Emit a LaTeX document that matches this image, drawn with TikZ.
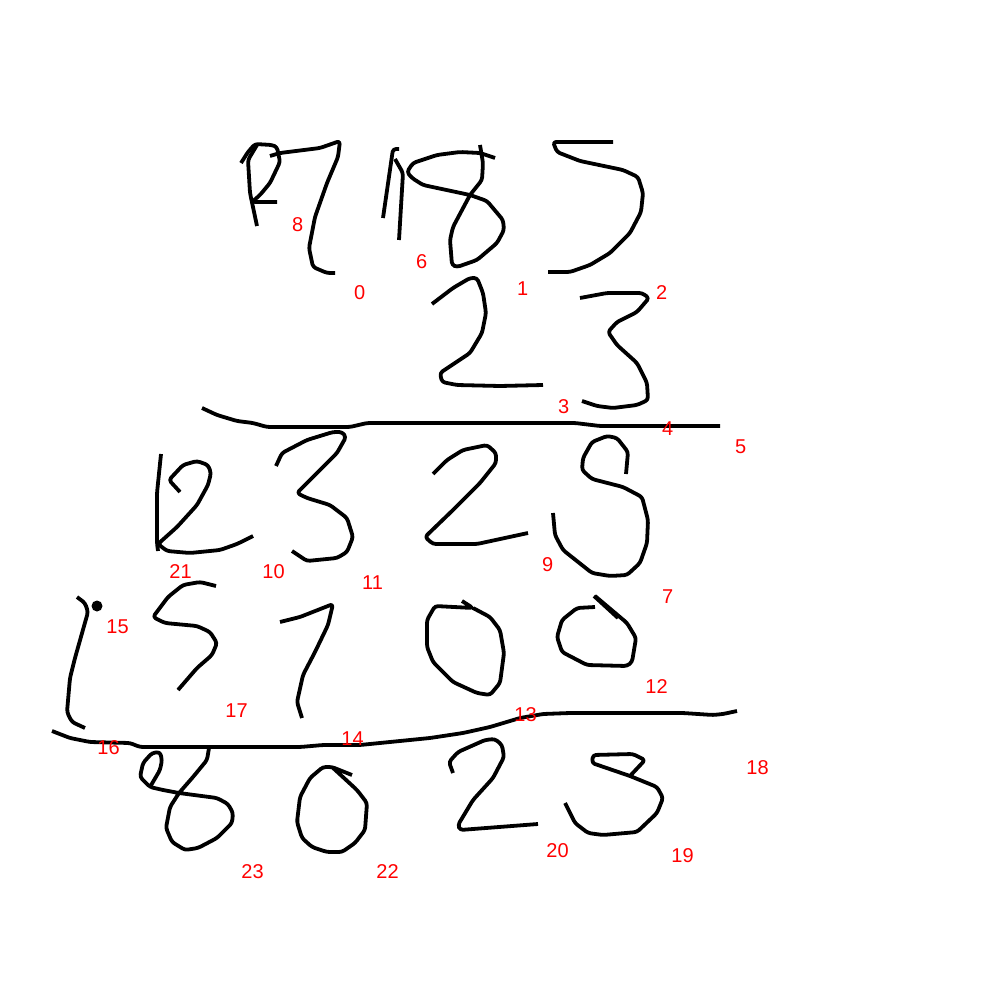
\documentclass[tikz,border=0pt]{standalone}
\usepackage{fontspec}
\setmainfont{Liberation Sans}
\definecolor{lab}{HTML}{FF0000}
\tikzset{
  ink/.style={draw=black,line width=3.8pt,line cap=butt,line join=round,rounded corners=3pt},
  num/.style={text=lab,font=\fontsize{20}{20}\selectfont,inner sep=0pt,xshift=0.6pt,yshift=-0.8pt}
}
\begin{document}
\begin{tikzpicture}[x=1pt,y=-1pt]
\useasboundingbox (0,0) rectangle (1000,1000);
\fill[white] (0,0) rectangle (1000,1000);
% top row: P 7 1 8 5
\draw[ink] (241,163)--(248,152)--(255,144)--(272,145)--(277,147)--(280,162)--(270,183)--(260,195)--(252,202)--(277,202);
\draw[ink] (257,145)--(248,160)--(250,193)--(257,226);
\draw[ink] (270,156)--(280,153)--(320,148)--(340,141)--(338,157)--(327,183)--(315,217)--(309,248)--(313,267)--(327,273)--(335,273);
\draw[ink] (383,218)--(393,149)--(399,149);
\draw[ink] (395,159)--(403,173)--(399,240);
\draw[ink] (495,158)--(480,153)--(460,152)--(437,155)--(413,163)--(407,172)--(412,178)--(423,185)--(470,195)--(487,201)--(503,220)--(504,230)--(497,243)--(477,260)--(457,267)--(452,265)--(450,240)--(453,227)--(470,195)--(482,180)--(483,163)--(480,145);
\draw[ink] (613,142)--(553,142)--(557,152)--(580,161)--(623,170)--(638,177)--(643,193)--(641,212)--(630,233)--(610,253)--(590,265)--(570,272)--(548,272);
% second row: 2 3
\draw[ink] (432,304)--(453,288)--(470,278)--(477,278)--(483,293)--(486,313)--(482,333)--(470,353)--(440,373)--(442,382)--(457,385)--(500,386)--(543,385);
\draw[ink] (580,298)--(607,293)--(642,293)--(649,298)--(637,312)--(617,322)--(608,332)--(617,345)--(637,363)--(647,383)--(648,400)--(637,405)--(613,408)--(597,406)--(582,401);
% first rule
\draw[ink] (202,408)--(217,415)--(237,421)--(253,423)--(267,427)--(350,427)--(367,423)--(575,423)--(600,426)--(720,426);
% third row: 1 2 3 2 S
\draw[ink] (161,454)--(157,493)--(157,543)--(158,551);
\draw[ink] (180,492)--(169,480)--(183,465)--(197,461)--(208,465)--(211,473)--(208,485)--(197,505)--(177,527)--(158,544)--(167,551)--(190,553)--(220,550)--(237,544)--(253,536);
\draw[ink] (276,466)--(282,453)--(307,440)--(333,432)--(342,432)--(346,437)--(337,453)--(297,493)--(307,498)--(330,505)--(347,518)--(353,537)--(347,552)--(337,558)--(307,561)--(292,551);
\draw[ink] (433,474)--(447,460)--(463,450)--(487,445)--(496,453)--(496,463)--(480,483)--(453,510)--(425,537)--(433,544)--(477,544)--(528,533);
\draw[ink] (626,474)--(628,452)--(617,438)--(607,436)--(592,442)--(583,458)--(582,470)--(592,479)--(623,487)--(642,497)--(648,520)--(647,543)--(640,563)--(627,575)--(610,576)--(592,573)--(563,550)--(555,535)--(553,513);
% fourth row: bracket, dot, 5 7 0 0
\draw[ink] (77,597)--(85,603)--(88,612)--(75,658)--(70,678)--(67,712)--(72,722)--(85,728);
\fill[black] (97,606) circle[radius=5.5];
\draw[ink] (216,586)--(200,582)--(183,585)--(168,597)--(153,617)--(165,623)--(197,626)--(210,632)--(217,643)--(212,655)--(197,668)--(178,690);
\draw[ink] (280,622)--(300,617)--(333,604)--(328,625)--(315,652)--(303,675)--(297,702)--(302,718);
\draw[ink] (462,601)--(473,608)--(435,606)--(427,620)--(427,647)--(433,662)--(453,682)--(477,693)--(490,695)--(500,683)--(504,653)--(500,630)--(490,617)--(473,608);
\draw[ink] (594,596)--(618,618);
\draw[ink] (595,607)--(577,608)--(562,620)--(557,637)--(562,652)--(587,665)--(627,666)--(632,662)--(636,638)--(627,623)--(595,596);
% second rule
\draw[ink] (52,731)--(70,738)--(90,742)--(130,743)--(140,747)--(300,747)--(323,745)--(360,745)--(430,738)--(463,733)--(490,727)--(520,718)--(543,714)--(570,713)--(683,713)--(713,715)--(723,714)--(737,711);
% bottom row: 8 0 2 3
\draw[ink] (209,748)--(207,760)--(193,777)--(179,793)--(170,807)--(166,828)--(172,842)--(185,850)--(198,848)--(217,838)--(232,823)--(233,813)--(228,804)--(217,798)--(179,793)--(163,790)--(150,787)--(140,777)--(143,763)--(152,753)--(160,752)--(162,760)--(160,770)--(150,787);
\draw[ink] (352,775)--(332,767)--(323,767)--(310,778)--(300,797)--(297,822)--(302,838)--(312,847)--(327,852)--(342,852)--(355,843)--(365,830)--(367,803)--(357,790)--(332,767);
\draw[ink] (453,773)--(449,762)--(458,752)--(485,740)--(495,739)--(502,745)--(504,757)--(493,778)--(473,800)--(458,825)--(460,830)--(538,824);
\draw[ink] (630,776)--(645,760)--(633,754)--(593,755)--(592,763)--(630,776)--(657,787)--(663,798)--(657,813)--(637,832)--(603,835)--(588,833)--(575,823)--(565,803);
% labels
\node[num] (n8) at (297,224) {8};
\node[num] (n0) at (359,292) {0};
\node[num] (n6) at (421,261) {6};
\node[num] (n1) at (522,288) {1};
\node[num] (n2) at (661,292) {2};
\node[num] (n3) at (563,406) {3};
\node[num] (n4) at (667,428) {4};
\node[num] (n5) at (740,446) {5};
\node[num] (n21) at (180,571) {21};
\node[num] (n10) at (273,571) {10};
\node[num] (n11) at (372,582) {11};
\node[num] (n9) at (547,564) {9};
\node[num] (n7) at (667,596) {7};
\node[num] (n15) at (117,626) {15};
\node[num] (n12) at (656,686) {12};
\node[num] (n17) at (236,710) {17};
\node[num] (n13) at (525,714) {13};
\node[num] (n14) at (352,738) {14};
\node[num] (n16) at (108,747) {16};
\node[num] (n18) at (757,767) {18};
\node[num] (n20) at (557,850) {20};
\node[num] (n19) at (682,855) {19};
\node[num] (n23) at (252,871) {23};
\node[num] (n22) at (387,871) {22};
\end{tikzpicture}
\end{document}
